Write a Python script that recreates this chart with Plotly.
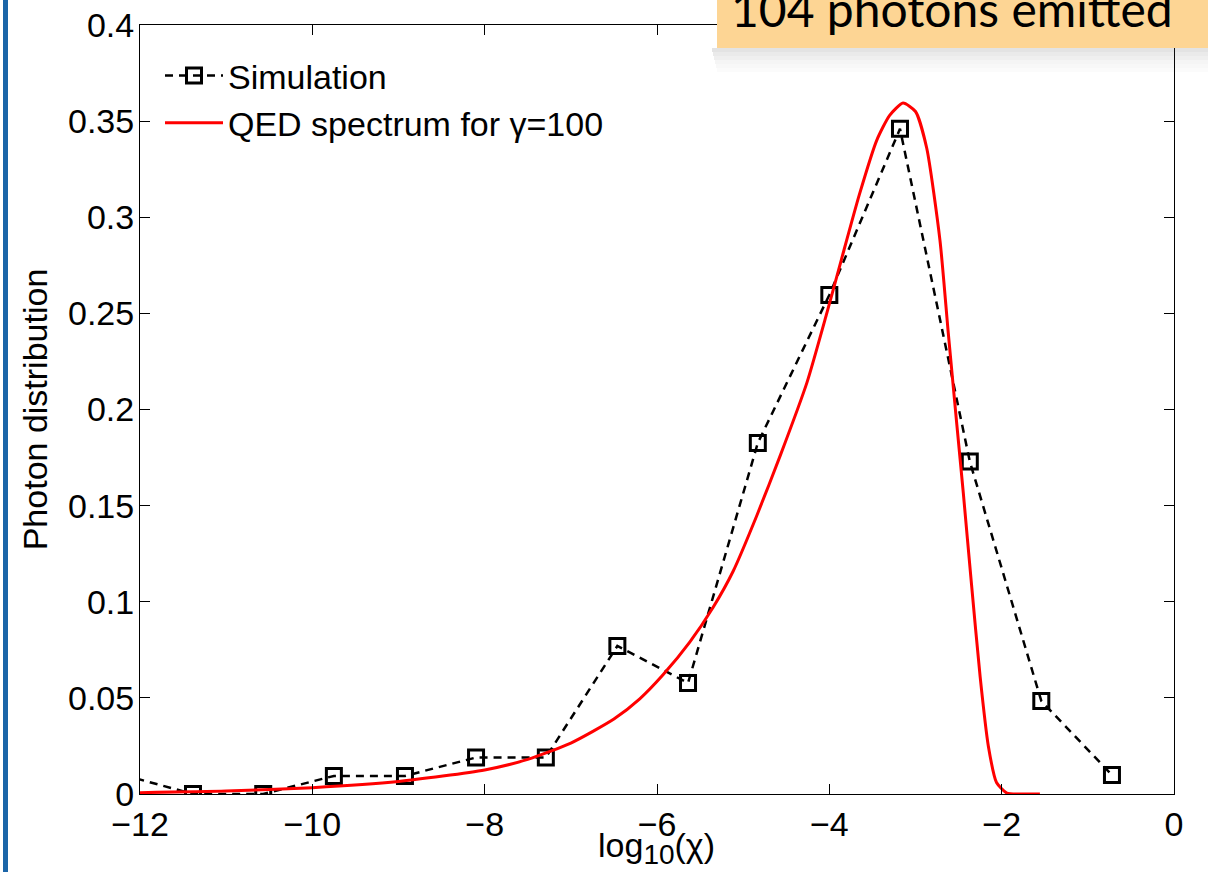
import plotly.graph_objects as go

# ---------------- data ----------------
sim_x = [-12.2, -11.385, -10.57, -9.75, -8.925, -8.10, -7.29, -6.46, -5.64, -4.83, -4.0, -3.18, -2.37, -1.54, -0.72]
sim_y = [0.010, 0.0, 0.0, 0.0094, 0.0094, 0.019, 0.019, 0.077, 0.0577, 0.1826, 0.2596, 0.346, 0.173, 0.0484, 0.0099]

qed_x = [-12.0, -11.0, -10.0, -9.0, -8.0, -7.5, -7.0, -6.5, -6.2, -5.93, -5.62, -5.35, -5.115, -4.84,
         -4.57, -4.26, -4.03, -3.86, -3.65, -3.45, -3.30, -3.145, -3.0, -2.87, -2.716, -2.62,
         -2.52, -2.445, -2.35, -2.25, -2.155, -2.06, -1.94, -1.80, -1.556]
qed_y = [0.0007, 0.0015, 0.0033, 0.0065, 0.0125, 0.018, 0.0265, 0.039, 0.0495, 0.062, 0.079, 0.097, 0.116, 0.145,
         0.176, 0.214, 0.250, 0.278, 0.312, 0.340, 0.353, 0.3594, 0.355, 0.336, 0.288, 0.240,
         0.192, 0.1565, 0.109, 0.061, 0.025, 0.006, 0.0005, 0.0, 0.0]

y_ticks = [0, 0.05, 0.1, 0.15, 0.2, 0.25, 0.3, 0.35, 0.4]
y_ticktext = ["0", "0.05", "0.1", "0.15", "0.2", "0.25", "0.3", "0.35", "0.4"]
x_ticks = [-12, -10, -8, -6, -4, -2, 0]
x_ticktext = ["\u221212", "\u221210", "\u22128", "\u22126", "\u22124", "\u22122", "0"]

sim_name = "Simulation"
qed_name = "QED spectrum for \u03b3=100"
banner_text = "104 photons emitted"
x_title = "log<sub><span style='font-size:28px'>10</span></sub>(\u03c7)"
y_title = "Photon distribution"

# ---------------- layout geometry (pixels) ----------------
W, H = 1208, 872
L, R, T, B = 140, 1174, 25, 794


def px(x):
    return (x - L) / (R - L)


def py(y):
    return (B - y) / (B - T)


FONT = "Liberation Sans, Arial, Helvetica, sans-serif"
FS = 34

fig = go.Figure()
fig.add_trace(go.Scatter(
    x=sim_x, y=sim_y, name=sim_name, mode="lines+markers",
    line=dict(color="black", width=2.5, dash="8px,6px"),
    marker=dict(symbol="square-open", size=15, color="black", line=dict(width=3, color="black")),
))
fig.add_trace(go.Scatter(
    x=qed_x, y=qed_y, name=qed_name, mode="lines",
    line=dict(color="#ff0000", width=3, shape="spline", smoothing=0.6),
))

axis_common = dict(
    showgrid=False, zeroline=False, showline=True, linecolor="black", linewidth=1,
    mirror="allticks", ticks="inside", ticklen=10, tickwidth=1, tickcolor="black",
    tickfont=dict(family=FONT, size=FS, color="black"), automargin=False,
)

fig.update_layout(
    width=W, height=H,
    margin=dict(l=L, r=W - R, t=T, b=H - B, pad=0, autoexpand=False),
    paper_bgcolor="white", plot_bgcolor="white",
    font=dict(family=FONT, size=FS, color="black"),
    showlegend=True,
    legend=dict(
        x=px(160), y=py(47), xanchor="left", yanchor="top",
        bgcolor="rgba(255,255,255,0)", borderwidth=0,
        font=dict(family=FONT, size=FS, color="black"),
        itemwidth=58, tracegroupgap=0,
    ),
    xaxis=dict(range=[-12, 0], tickvals=x_ticks, ticktext=x_ticktext, **axis_common),
    yaxis=dict(range=[0, 0.4], tickvals=y_ticks, ticktext=y_ticktext, ticklabelstandoff=-2,
               title=dict(text=y_title, font=dict(family=FONT, size=FS), standoff=10),
               **axis_common),
)

shapes = []
# blue slide edge line on the left
shapes.append(dict(type="rect", xref="paper", yref="paper", x0=px(3), x1=px(8), y0=py(H + 5), y1=py(-5),
                   fillcolor="#1b65a8", line=dict(width=0), layer="above"))
# soft shadow below the banner
for i, op in enumerate([0.16, 0.12, 0.09, 0.06, 0.04, 0.025]):
    shapes.append(dict(type="rect", xref="paper", yref="paper",
                       x0=px(712 + i), x1=px(1220), y0=py(48 + 4 * (i + 1)), y1=py(48 + 4 * i),
                       fillcolor=f"rgba(80,80,80,{op})", line=dict(width=0), layer="above"))
# banner box
shapes.append(dict(type="rect", xref="paper", yref="paper", x0=px(717), x1=px(1225), y0=py(48), y1=py(-20),
                   fillcolor="#fdd594", line=dict(width=0), layer="above"))
fig.update_layout(shapes=shapes)

fig.add_annotation(
    xref="paper", yref="paper", x=px(729), y=py(9), xanchor="left", yanchor="middle",
    text=banner_text, showarrow=False,
    font=dict(family="Lato, Open Sans, sans-serif", size=48, color="black"),
)
# x-axis title
fig.add_annotation(
    xref="paper", yref="paper", x=px(656), y=py(848), xanchor="center", yanchor="middle",
    text=x_title, showarrow=False,
    font=dict(family=FONT, size=FS, color="black"),
)

fig.write_html("out.html", config={"displayModeBar": False},
               post_script="document.body.style.margin='0';document.body.style.overflow='hidden';")
